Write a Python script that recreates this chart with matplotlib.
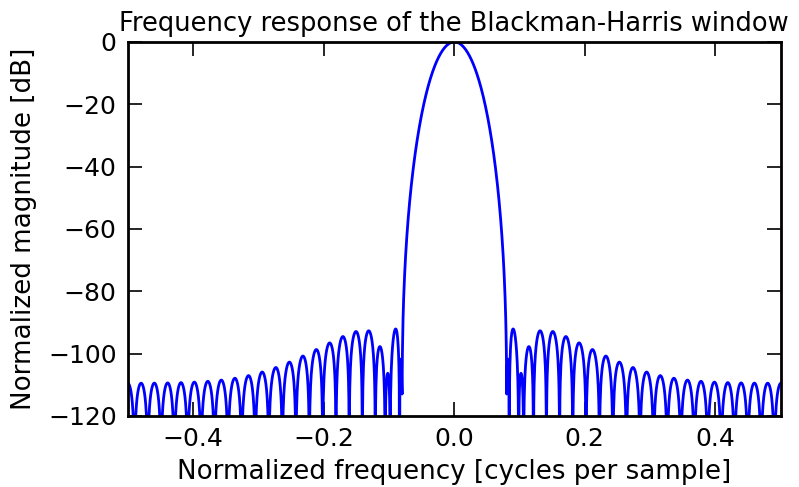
import numpy as np
import matplotlib
matplotlib.use("Agg")
import matplotlib.pyplot as plt

# Blackman-Harris window: length and cosine-sum coefficients
n_taps = 51
coeffs = [0.35875, 0.48829, 0.14128, 0.01168]
n_fft = 2048

n = np.arange(n_taps)
window = np.zeros(n_taps)
for k, a in enumerate(coeffs):
    window += (-1) ** k * a * np.cos(2 * np.pi * k * n / (n_taps - 1))

A = np.fft.fft(window, n_fft) / (len(window) / 2.0)
freq = np.linspace(-0.5, 0.5, len(A))
with np.errstate(divide="ignore"):
    response = 20 * np.log10(np.abs(np.fft.fftshift(A / np.abs(A).max())))

plt.rcParams["font.size"] = 18
plt.rcParams["xtick.direction"] = "in"
plt.rcParams["ytick.direction"] = "in"

fig = plt.figure(figsize=(7.99, 4.87), dpi=100)
ax = fig.add_axes([0.160, 0.146, 0.817, 0.768])
ax.plot(freq, response, color="#0000ff", linewidth=2)
ax.axis([-0.5, 0.5, -120, 0])
ax.set_title("Frequency response of the Blackman-Harris window", fontsize=18.5, pad=8)
ax.set_ylabel("Normalized magnitude [dB]", fontsize=18.8, labelpad=8)
ax.set_xlabel("Normalized frequency [cycles per sample]", fontsize=18.8, labelpad=6)
ax.set_xticks([-0.4, -0.2, 0.0, 0.2, 0.4])
ax.set_yticks([-120, -100, -80, -60, -40, -20, 0])
ax.tick_params(which="major", length=10, width=1.2, top=True, right=True, pad=8)
for sp in ax.spines.values():
    sp.set_linewidth(2)

fig.savefig("out.png", dpi=100)
